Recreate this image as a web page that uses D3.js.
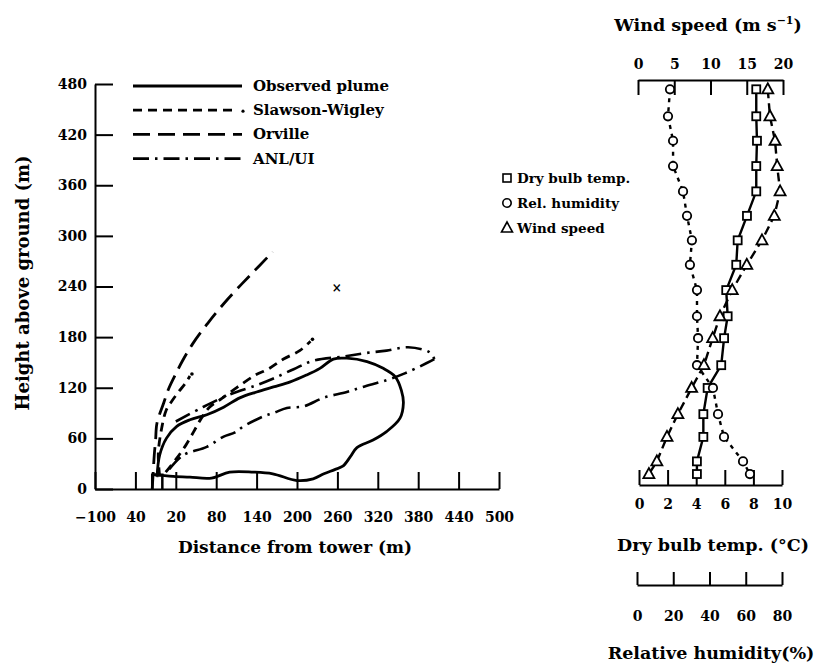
<!DOCTYPE html>
<html lang="en">
<head>
    <meta charset="UTF-8">
    <title>Plume</title>
    <style>
        body { margin: 0; background: #fff; }
        text { font-family: "DejaVu Serif", serif; font-weight: bold; fill: #000; }
        .axis path, .axis line { stroke: #000; stroke-width: 2; }
        .axis text { font-size: 14px; font-family: "DejaVu Serif", serif; font-weight: bold; }
    </style>
</head>
<body>
    <svg class="chart"></svg>

    <script src="https://cdnjs.cloudflare.com/ajax/libs/d3/7.8.5/d3.min.js"></script>
    <script>

    // left chart: plume outlines, [distance (m), height (m)]
    const observedPlume = [[-8,14],[-4,40],[6,60],[21,74],[41,82],[66,88],[91,97],[115,108],[140,115],[165,121],[190,127],[214,135],[234,143],[254,154],[274,155],[304,151],[328,143],[346,133],[355,117],[358,102],[353,84],[333,68],[313,58],[289,49],[279,38],[268,27],[256,23],[240,18],[224,12],[200,10],[164,18],[135,20],[100,20],[73,13],[41,14],[16,15],[-15,17]];
    const tower = [[-15,0],[-15,17],[0,17],[0,0]];
    const orville = [[-15,0],[-12,40],[-10,58],[-8,78],[2,102],[10,120],[19,135],[30,152],[45,172],[68,197],[96,224],[130,253],[164,281]];
    const slawsonWigley = [[5,20],[20,35],[35,52],[48,70],[58,84],[70,97],[88,107],[112,121],[138,135],[157,142],[180,154],[204,164],[220,175]];
    const slawsonInner = [[-4,15],[-6,42],[-1,72],[6,94],[14,104],[24,115],[34,125],[41,134]];
    const anlUpper = [[20,80],[60,97],[100,112],[140,123],[165,131],[195,142],[224,152],[269,157],[301,161],[333,164],[365,168],[397,162],[404,154]];
    const anlLower = [[404,154],[392,149],[360,137],[333,129],[298,121],[274,115],[239,108],[210,98],[185,96],[165,90],[150,86],[120,74],[108,67],[91,62],[66,50],[31,40],[9,22]];
    const crossMark = [259, 238];

    const xTickVals = [-100,-40,20,80,140,200,260,320,380,440,500];
    const xTickLabels = ['\u2212100','40','20','80','140','200','260','320','380','440','500'];
    const yTickVals = [0,60,120,180,240,300,360,420,480];

    const legendNames = ['Observed plume','Slawson-Wigley','Orville','ANL/UI'];

    // right chart: profiles
    const profileHeights = [469,437,408,378,348,319,290,261,231,200,174,142,115,84,57,28,13];
    const dryBulb = [8.2,8.2,8.25,8.2,8.2,7.55,6.9,6.8,6.1,6.2,5.95,5.75,4.8,4.5,4.5,4.05,4.05];
    const relHumidity = [18.2,17.1,19.9,19.9,25.4,27.6,30.3,29.2,33.1,33.1,33.7,33.1,41.9,44.7,48,58.5,62.3];
    const windSpeed = [17.9,18.2,18.9,19.2,19.6,18.8,17.1,15.0,13.0,11.3,10.3,9.1,7.4,5.5,4.0,2.6,1.5];

    const windTicks = [0,5,10,15,20];
    const tempTicks = [0,2,4,6,8,10];
    const rhTicks = [0,20,40,60,80];
    const profileLegend = ['Dry bulb temp.','Rel. humidity','Wind speed'];

    const chartWidth = 815, chartHeight = 665;

    const svg = d3.select('.chart')
        .attr('width', chartWidth)
        .attr('height', chartHeight);

    svg.append('rect').attr('width', chartWidth).attr('height', chartHeight).attr('fill', '#fff');

    //scales of the left chart
    const xScale = d3.scaleLinear().domain([-100, 500]).range([95, 499]);
    const yScale = d3.scaleLinear().domain([0, 480]).range([489, 84]);

    const xAxis = d3.axisBottom(xScale)
        .tickValues(xTickVals)
        .tickFormat((d, i) => xTickLabels[i])
        .tickSize(-17).tickSizeOuter(0).tickPadding(23);

    svg.append('g').attr('class', 'axis')
        .attr('transform', `translate(0, ${yScale(0)})`)
        .call(xAxis);

    const yAxis = d3.axisLeft(yScale)
        .tickValues(yTickVals)
        .tickSize(-18).tickSizeOuter(0).tickPadding(8);

    svg.append('g').attr('class', 'axis')
        .attr('transform', `translate(${xScale(-100)}, 0)`)
        .call(yAxis);

    svg.append('text')
        .attr('transform', `translate(29, 283) rotate(-90)`)
        .attr('text-anchor', 'middle')
        .style('font-size', '18px')
        .text('Height above ground (m)');

    svg.append('text')
        .attr('x', 295).attr('y', 553)
        .attr('text-anchor', 'middle')
        .style('font-size', '17px')
        .text('Distance from tower (m)');

    //line styles
    const styles = {
        observed: { dash: null, width: 2.8 },
        slawson: { dash: '9,6', width: 2.8 },
        orville: { dash: '17,8', width: 2.8 },
        anl: { dash: '16,6,2.5,6', width: 2.6 }
    };

    const line = d3.line()
        .x(d => xScale(d[0]))
        .y(d => yScale(d[1]))
        .curve(d3.curveCatmullRom);

    const plot = svg.append('g');

    const drawCurve = (pts, st) => {
        plot.append('path')
            .attr('d', line(pts))
            .attr('fill', 'none')
            .attr('stroke', '#000')
            .attr('stroke-width', st.width)
            .attr('stroke-dasharray', st.dash);
    };

    drawCurve(orville, styles.orville);
    drawCurve(slawsonWigley, styles.slawson);
    drawCurve(slawsonInner, styles.slawson);
    drawCurve(anlUpper, styles.anl);
    drawCurve(anlLower, styles.anl);
    drawCurve(observedPlume, styles.observed);

    // end dots of the Slawson-Wigley curves
    [slawsonWigley[slawsonWigley.length - 1], slawsonInner[slawsonInner.length - 1]].forEach(p => {
        plot.append('circle')
            .attr('cx', xScale(p[0]) + 2).attr('cy', yScale(p[1]) - 2)
            .attr('r', 1.8).attr('fill', '#000');
    });

    // tower
    plot.append('path')
        .attr('d', d3.line().x(d => xScale(d[0])).y(d => yScale(d[1]))(tower))
        .attr('fill', 'none').attr('stroke', '#000').attr('stroke-width', 2.5);

    // x marker
    plot.append('text')
        .attr('x', xScale(crossMark[0])).attr('y', yScale(crossMark[1]) + 4)
        .attr('text-anchor', 'middle')
        .style('font-size', '12px')
        .text('\u00d7');

    //legend
    const legendStyles = [styles.observed, styles.slawson, styles.orville, styles.anl];
    const legend = svg.append('g');
    legendNames.forEach((name, i) => {
        const ly = 86 + i * 24.2;
        legend.append('line')
            .attr('x1', 133).attr('x2', i == 1 ? 232 : 242)
            .attr('y1', ly).attr('y2', ly)
            .attr('stroke', '#000')
            .attr('stroke-width', 2.8)
            .attr('stroke-dasharray', legendStyles[i].dash);
        if (i == 1) {
            legend.append('circle').attr('cx', 243).attr('cy', ly + 1).attr('r', 1.6).attr('fill', '#000');
        }
        legend.append('text')
            .attr('x', 253).attr('y', ly + 5)
            .style('font-size', '15px')
            .text(name);
    });

    //right chart
    const yRight = d3.scaleLinear().domain([0, 480]).range([485, 80]);
    const xWind = d3.scaleLinear().domain([0, 20]).range([638, 783]);
    const xTemp = d3.scaleLinear().domain([0, 10]).range([639, 782]);
    const xRh = d3.scaleLinear().domain([0, 80]).range([637, 782]);

    svg.append('g').attr('class', 'axis')
        .attr('transform', 'translate(0, 80)')
        .call(d3.axisTop(xWind).tickValues(windTicks).tickSize(-15).tickSizeOuter(0).tickPadding(11));

    svg.append('g').attr('class', 'axis')
        .attr('transform', 'translate(0, 485)')
        .call(d3.axisBottom(xTemp).tickValues(tempTicks).tickSize(-15).tickSizeOuter(0).tickPadding(14));

    svg.append('g').attr('class', 'axis')
        .attr('transform', 'translate(0, 585)')
        .call(d3.axisBottom(xRh).tickValues(rhTicks).tickSize(-13).tickSizeOuter(0).tickPadding(26));

    const windTitle = svg.append('text')
        .attr('x', 708).attr('y', 31)
        .attr('text-anchor', 'middle')
        .style('font-size', '17.5px');
    windTitle.append('tspan').text('Wind speed (m s');
    windTitle.append('tspan').attr('dy', -7).style('font-size', '11px').text('\u22121');
    windTitle.append('tspan').attr('dy', 7).text(')');

    svg.append('text')
        .attr('x', 713).attr('y', 551)
        .attr('text-anchor', 'middle')
        .style('font-size', '17.5px')
        .text('Dry bulb temp. (\u00b0C)');

    svg.append('text')
        .attr('x', 711).attr('y', 659)
        .attr('text-anchor', 'middle')
        .style('font-size', '17.5px')
        .text('Relative humidity(%)');

    const profiles = [
        { vals: dryBulb, scale: xTemp, shape: 'square', dash: null },
        { vals: relHumidity, scale: xRh, shape: 'circle', dash: '4,5' },
        { vals: windSpeed, scale: xWind, shape: 'triangle', dash: '9,5' }
    ];

    const drawMarker = (g, shape, cx, cy) => {
        if (shape == 'square') {
            g.append('rect').attr('x', cx - 4).attr('y', cy - 4).attr('width', 8).attr('height', 8);
        } else if (shape == 'circle') {
            g.append('circle').attr('cx', cx).attr('cy', cy).attr('r', 4.2);
        } else {
            g.append('path').attr('d', `M${cx},${cy - 6}L${cx + 5.5},${cy + 4}L${cx - 5.5},${cy + 4}Z`);
        }
    };

    profiles.forEach(p => {
        const pts = p.vals.map((v, i) => [p.scale(v), yRight(profileHeights[i])]);
        svg.append('path')
            .attr('d', d3.line()(pts))
            .attr('fill', 'none')
            .attr('stroke', '#000')
            .attr('stroke-width', 2.4)
            .attr('stroke-dasharray', p.dash);
    });

    profiles.forEach(p => {
        const g = svg.append('g').attr('fill', '#fff').attr('stroke', '#000').attr('stroke-width', 1.8);
        p.vals.forEach((v, i) => drawMarker(g, p.shape, p.scale(v), yRight(profileHeights[i])));
    });

    //legend of the profiles
    profileLegend.forEach((name, i) => {
        const ly = 178 + i * 25;
        const g = svg.append('g').attr('fill', '#fff').attr('stroke', '#000').attr('stroke-width', 1.6);
        drawMarker(g, profiles[i].shape, 507, ly);
        svg.append('text')
            .attr('x', 517).attr('y', ly + 5)
            .style('font-size', '13.5px')
            .text(name);
    });

    </script>
</body>
</html>
